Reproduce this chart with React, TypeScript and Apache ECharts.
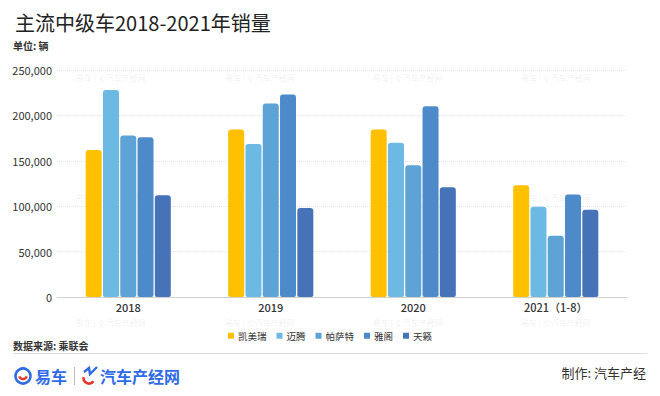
import React, { useEffect, useRef } from 'react';
import * as echarts from 'echarts';

const categories = ['2018', '2019', '2020', '2021（1-8）'];
const seriesNames = ['凯美瑞', '迈腾', '帕萨特', '雅阁', '天籁'];
const camry = [162000, 184500, 184500, 123000];
const magotan = [228000, 168500, 170000, 99500];
const passat = [178000, 213000, 145000, 67500];
const accord = [176000, 223000, 210000, 113000];
const teana = [112000, 98000, 121000, 96000];
const seriesValues = [camry, magotan, passat, accord, teana];
const colors = ['#FFC000', '#6CB9E4', '#5EA3D5', '#4D8AC9', '#4673B8'];
const yMax = 250000;
const yInterval = 50000;

const FONT = '"Noto Sans CJK SC", "Noto Sans", sans-serif';

const watermarkCols = [68, 217, 365, 513];
const watermarkRows = [77, 197, 322];

export default function App() {
  const ref = useRef<HTMLDivElement>(null);
  useEffect(() => {
    document.body.style.margin = '0';
    if (!ref.current) return;
    const chart = echarts.init(ref.current, null, { renderer: 'svg' });

    const watermarks: any[] = [];
    watermarkRows.forEach((y) =>
      watermarkCols.forEach((x) =>
        watermarks.push({
          type: 'text',
          x,
          y,
          z: 0,
          silent: true,
          style: {
            text: '◎易车 | ぐ汽车产经网',
            fill: 'rgba(0,0,0,0.09)',
            fontSize: 8,
            fontFamily: FONT,
            textVerticalAlign: 'middle',
          },
        })
      )
    );

    const option: any = {
      animation: false,
      backgroundColor: '#fff',
      textStyle: { fontFamily: FONT },
      color: colors,
      grid: { left: 57, right: 33, top: 70, bottom: 99, containLabel: false },
      legend: {
        data: seriesNames,
        left: 'center',
        top: 326,
        itemWidth: 6,
        itemHeight: 6,
        itemGap: 10,
        icon: 'rect',
        textStyle: { fontSize: 9.5, color: '#333', fontFamily: FONT, padding: [0, 0, 0, -1] },
      },
      xAxis: {
        type: 'category',
        data: categories,
        axisLine: { lineStyle: { color: '#d0d0d0', width: 1 } },
        axisTick: { show: false },
        axisLabel: { fontSize: 11, color: '#333', fontWeight: 500, margin: 4, fontFamily: FONT },
      },
      yAxis: {
        type: 'value',
        min: 0,
        max: yMax,
        interval: yInterval,
        axisLine: { show: false },
        axisTick: { show: false },
        axisLabel: {
          fontSize: 11,
          color: '#333',
          margin: 5,
          fontFamily: FONT,
          formatter: (v: number) => v.toLocaleString('en-US'),
        },
        splitLine: { lineStyle: { color: '#e6e6e6', type: 'dotted', width: 1 } },
      },
      series: seriesNames.map((name, i) => ({
        name,
        type: 'bar',
        data: seriesValues[i],
        barWidth: 16,
        barGap: '8%',
        itemStyle: { color: colors[i], borderRadius: [3, 3, 2, 2] },
        z: 2,
      })),
      graphic: [
        ...watermarks,
        {
          type: 'text',
          x: 15,
          y: 22,
          style: {
            text: '主流中级车2018-2021年销量',
            fill: '#222',
            fontSize: 20,
            fontWeight: 'normal',
            fontFamily: FONT,
            textVerticalAlign: 'middle',
          },
        },
        {
          type: 'text',
          x: 13,
          y: 45,
          style: {
            text: '单位: 辆',
            fill: '#333',
            fontSize: 10,
            fontWeight: 'bold',
            fontFamily: FONT,
            textVerticalAlign: 'middle',
          },
        },
        {
          type: 'text',
          x: 13,
          y: 345,
          style: {
            text: '数据来源: 乘联会',
            fill: '#333',
            fontSize: 10,
            fontWeight: 'bold',
            fontFamily: FONT,
            textVerticalAlign: 'middle',
          },
        },
        {
          type: 'line',
          shape: { x1: 13, y1: 353.5, x2: 647, y2: 353.5 },
          style: { stroke: '#dddddd', lineWidth: 1 },
        },
        {
          type: 'circle',
          shape: { cx: 23, cy: 376, r: 7.5 },
          style: { fill: 'none', stroke: '#2F6BE6', lineWidth: 2.6 },
        },
        {
          type: 'arc',
          shape: { cx: 23, cy: 375, r: 4, startAngle: 0.35, endAngle: Math.PI - 0.35 },
          style: { fill: 'none', stroke: '#E8342E', lineWidth: 2.4 },
        },
        {
          type: 'text',
          x: 35,
          y: 376,
          style: {
            text: '易车',
            fill: '#2F6BE6',
            fontSize: 16,
            fontWeight: 'bold',
            fontFamily: FONT,
            textVerticalAlign: 'middle',
          },
        },
        {
          type: 'line',
          shape: { x1: 74.5, y1: 367, x2: 74.5, y2: 385 },
          style: { stroke: '#bbbbbb', lineWidth: 1 },
        },
        {
          type: 'arc',
          shape: { cx: 89, cy: 378, r: 5.5, startAngle: Math.PI * 0.2, endAngle: Math.PI * 1.05 },
          style: { fill: 'none', stroke: '#E8342E', lineWidth: 2.6 },
        },
        {
          type: 'polyline',
          shape: { points: [[84, 372], [89, 368], [90, 374], [97, 367]] },
          style: { fill: 'none', stroke: '#2F6BE6', lineWidth: 2.4 },
        },
        {
          type: 'text',
          x: 100,
          y: 376,
          style: {
            text: '汽车产经网',
            fill: '#2F6BE6',
            fontSize: 16,
            fontWeight: 'bold',
            fontFamily: FONT,
            textVerticalAlign: 'middle',
          },
        },
        {
          type: 'text',
          x: 646,
          y: 372,
          style: {
            text: '制作: 汽车产经',
            fill: '#333',
            fontSize: 13,
            fontFamily: FONT,
            textAlign: 'right',
            textVerticalAlign: 'middle',
          },
        },
      ],
    };
    chart.setOption(option);
    return () => chart.dispose();
  }, []);
  return <div ref={ref} style={{ width: 660, height: 396 }} />;
}
